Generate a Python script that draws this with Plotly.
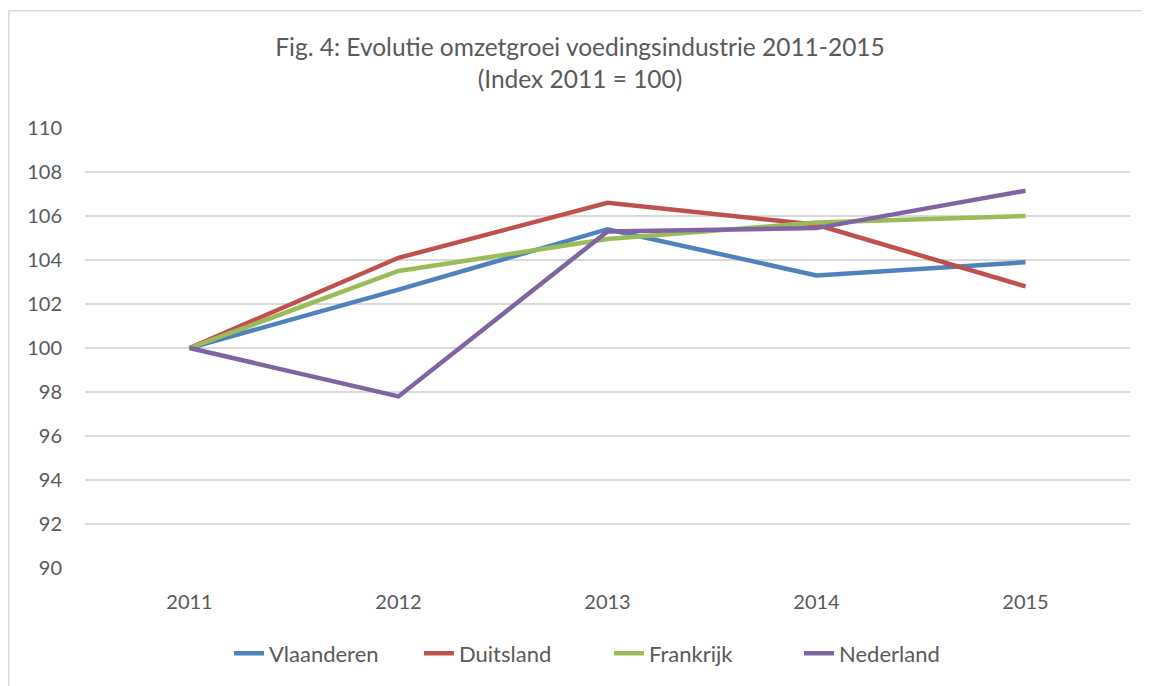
import plotly.graph_objects as go

years = ["2011", "2012", "2013", "2014", "2015"]
vlaanderen = [100, 102.65, 105.4, 103.3, 103.9]
duitsland = [100, 104.1, 106.6, 105.6, 102.8]
frankrijk = [100, 103.5, 104.95, 105.7, 106.0]
nederland = [100, 97.8, 105.3, 105.45, 107.15]

series = [
    ("Vlaanderen", vlaanderen, "#4f81bd"),
    ("Duitsland", duitsland, "#c0504d"),
    ("Frankrijk", frankrijk, "#9bbb59"),
    ("Nederland", nederland, "#8064a2"),
]

fig = go.Figure()
for name, vals, color in series:
    fig.add_trace(go.Scatter(x=years, y=vals, name=name, mode="lines",
                             line=dict(color=color, width=4.5)))

W, H = 1141, 678
L, R, T, B = 77, 19, 120, 115
pw, ph = W - L - R, H - T - B

font_family = "Lato, Open Sans, sans-serif"
fig.update_layout(
    width=W, height=H,
    paper_bgcolor="white", plot_bgcolor="white",
    margin=dict(l=L, r=R, t=T, b=B),
    font=dict(family=font_family, color="#595959", size=20),
    title=dict(text="Fig. 4: Evolutie omzetgroei voedingsindustrie 2011-2015<br>(Index 2011 = 100)",
               x=(580 - 8) / W, xanchor="center", y=1 - 48 / H, yanchor="middle",
               font=dict(size=24.5, color="#595959")),
    showlegend=True,
    legend=dict(orientation="h", x=(609 - 8 - L) / pw, xanchor="center", y=(T + ph - 649) / ph,
                yanchor="middle", entrywidth=145, entrywidthmode="pixels",
                font=dict(size=22, color="#595959"), traceorder="normal"),
    xaxis=dict(type="category", range=[-0.5, 4.5], showgrid=False, showline=False, ticks="",
               tickfont=dict(size=20, color="#595959"), ticklabelstandoff=20),
    yaxis=dict(range=[90, 110], dtick=2, showgrid=True, gridcolor="#d9d9d9", gridwidth=1.5,
               zeroline=False, showline=False, ticks="",
               tickfont=dict(size=20, color="#595959"), ticklabelstandoff=22),
)
fig.add_shape(type="rect", xref="paper", yref="paper",
              x0=(0.8 - L) / pw, x1=(W + 20 - L) / pw,
              y0=(T + ph - H - 20) / ph, y1=(T + ph - 2) / ph,
              line=dict(color="#d9d9d9", width=1.5), fillcolor="rgba(0,0,0,0)", layer="below")

fig.write_html("out.html")
